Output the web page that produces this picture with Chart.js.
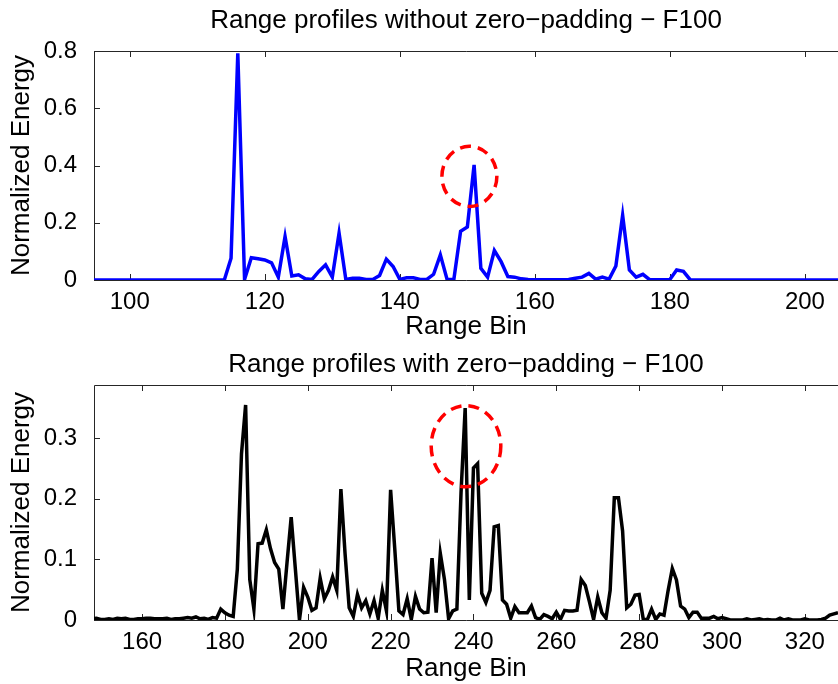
<!DOCTYPE html>
<html>
<head>
<meta charset="utf-8">
<script src="https://cdn.jsdelivr.net/npm/chart.js@4.4.0/dist/chart.umd.min.js"></script>
<style>
  html, body { margin: 0; padding: 0; background: #fff; }
  #wrap { position: relative; width: 838px; height: 684px; }
  .box { position: absolute; left: 0; width: 838px; height: 342px; }
</style>
</head>
<body>
<div id="wrap">
  <div class="box" style="top:0"><canvas id="topChart"></canvas></div>
  <div class="box" style="top:342px"><canvas id="bottomChart"></canvas></div>
</div>
<script>
// range bins of the first sample in each profile
const topFirstBin = 94;
const bottomFirstBin = 148;

// normalized energy, without zero-padding (bins 94..205)
const topValues = [
  0, 0, 0, 0, 0, 0, 0, 0, 0, 0,
  0, 0, 0, 0, 0, 0, 0, 0, 0, 0,
  0, 0.076, 0.792, 0.002, 0.078, 0.074, 0.07, 0.06, 0.01, 0.152,
  0.014, 0.018, 0.004, 0.002, 0.03, 0.053, 0.01, 0.164, 0.002, 0.006,
  0.006, 0.002, 0.002, 0.016, 0.073, 0.047, 0.002, 0.008, 0.008, 0.002,
  0.002, 0.02, 0.088, 0.002, 0.002, 0.17, 0.185, 0.402, 0.041, 0.01,
  0.103, 0.064, 0.012, 0.01, 0.004, 0.002, 0.001, 0.001, 0.001, 0.001,
  0.001, 0.002, 0.006, 0.01, 0.023, 0.003, 0.01, 0.003, 0.049, 0.226,
  0.035, 0.01, 0.02, 0.001, 0.001, 0.001, 0.002, 0.035, 0.03, 0.001,
  0, 0, 0, 0, 0, 0, 0, 0, 0, 0,
  0, 0, 0, 0, 0, 0, 0, 0, 0, 0,
  0, 0
];

// normalized energy, with zero-padding (bins 148..328)
const bottomValues = [
  0.002, 0.003, 0.001, 0.001, 0.002, 0.001, 0.003, 0.002, 0.003, 0.001,
  0.001, 0.002, 0.002, 0.003, 0.003, 0.002, 0.002, 0.002, 0.003, 0.001,
  0.002, 0.002, 0.003, 0.004, 0.003, 0.005, 0.002, 0.003, 0.001, 0.004,
  0.003, 0.018, 0.012, 0.008, 0.006, 0.084, 0.274, 0.355, 0.067, 0.018,
  0.126, 0.127, 0.149, 0.118, 0.095, 0.084, 0.018, 0.095, 0.17, 0.085,
  0, 0.054, 0.038, 0.016, 0.02, 0.069, 0.035, 0.049, 0.071, 0.049,
  0.216, 0.11, 0.02, 0.006, 0.042, 0.02, 0.032, 0.01, 0.032, 0.003,
  0.049, 0.015, 0.215, 0.118, 0.015, 0.009, 0.035, 0.001, 0.039, 0.018,
  0.012, 0.013, 0.102, 0.012, 0.11, 0.067, 0.002, 0.015, 0.018, 0.21,
  0.35, 0.033, 0.251, 0.258, 0.044, 0.029, 0.049, 0.154, 0.156, 0.033,
  0.026, 0.003, 0.022, 0.012, 0.012, 0.012, 0.023, 0.004, 0.001, 0.009,
  0.006, 0.002, 0.013, 0.001, 0.016, 0.015, 0.015, 0.016, 0.067, 0.057,
  0.03, 0.001, 0.038, 0.012, 0.003, 0.049, 0.202, 0.202, 0.147, 0.02,
  0.026, 0.041, 0.042, 0.001, 0.001, 0.018, 0.001, 0.01, 0.008, 0.049,
  0.085, 0.066, 0.023, 0.018, 0.004, 0.013, 0.013, 0.003, 0.003, 0.003,
  0.006, 0.002, 0.004, 0.002, 0, 0, 0, 0, 0.002, 0,
  0.001, 0.002, 0, 0.001, 0, 0, 0.003, 0, 0.002, 0,
  0, 0, 0.002, 0, 0, 0, 0.001, 0.003, 0.008, 0.01,
  0.012
];

const topXTicks = [100, 120, 140, 160, 180, 200];
const topYTicks = [0, 0.2, 0.4, 0.6, 0.8];
const bottomXTicks = [160, 180, 200, 220, 240, 260, 280, 300, 320];
const bottomYTicks = [0, 0.1, 0.2, 0.3];

// dashed circles around the compared peak (data units)
const topMarker = { x: 150.3, y: 0.362, rx: 4.07, ry: 0.105 };
const bottomMarker = { x: 238.2, y: 0.287, rx: 8.4, ry: 0.067 };

const FONT = "'Liberation Sans', Arial, Helvetica, sans-serif";
const AXIS_COLOR = "#262626";

function toPoints(firstBin, values) {
  return values.map((v, i) => ({ x: firstBin + i, y: v }));
}

function fmt(v) {
  return v === 0 ? "0" : String(v);
}

// matlab-like box with inward ticks (right side is cut off in the figure)
const axesBox = {
  id: "axesBox",
  beforeDatasetsDraw(chart) {
    const { ctx, chartArea: a, scales } = chart;
    ctx.save();
    ctx.strokeStyle = AXIS_COLOR;
    ctx.lineWidth = 1;
    ctx.beginPath();
    scales.x.ticks.forEach((t) => {
      const px = Math.round(scales.x.getPixelForValue(t.value)) + 0.5;
      ctx.moveTo(px, a.bottom);
      ctx.lineTo(px, a.bottom - 6);
      ctx.moveTo(px, a.top);
      ctx.lineTo(px, a.top + 6);
    });
    scales.y.ticks.forEach((t) => {
      const py = Math.round(scales.y.getPixelForValue(t.value)) + 0.5;
      ctx.moveTo(a.left, py);
      ctx.lineTo(a.left + 6, py);
    });
    const l = Math.round(a.left) + 0.5;
    const tp = Math.round(a.top) + 0.5;
    const b = Math.round(a.bottom) + 0.5;
    ctx.moveTo(a.right + 2, tp);
    ctx.lineTo(l, tp);
    ctx.lineTo(l, b);
    ctx.lineTo(a.right + 2, b);
    ctx.stroke();
    ctx.restore();
  },
};

const peakCircle = {
  id: "peakCircle",
  afterDatasetsDraw(chart, args, opts) {
    const m = opts.marker;
    if (!m) return;
    const { ctx, scales: { x, y } } = chart;
    const cx = x.getPixelForValue(m.x);
    const cy = y.getPixelForValue(m.y);
    const rx = Math.abs(x.getPixelForValue(m.x + m.rx) - cx);
    const ry = Math.abs(y.getPixelForValue(m.y + m.ry) - cy);
    ctx.save();
    ctx.strokeStyle = "#ff0000";
    ctx.lineWidth = 3.5;
    ctx.setLineDash([11, 7]);
    ctx.beginPath();
    ctx.ellipse(cx, cy, rx, ry, 0, 0, Math.PI * 2);
    ctx.stroke();
    ctx.restore();
  },
};

function makeChart(id, cfg) {
  return new Chart(document.getElementById(id), {
    type: "line",
    data: {
      datasets: [
        {
          data: toPoints(cfg.firstBin, cfg.values),
          borderColor: cfg.color,
          borderWidth: 3.5,
          pointRadius: 0,
          tension: 0,
          fill: false,
        },
      ],
    },
    plugins: [axesBox, peakCircle],
    options: {
      responsive: true,
      maintainAspectRatio: false,
      animation: false,
      devicePixelRatio: 1,
      layout: { padding: 0 },
      plugins: {
        legend: { display: false },
        tooltip: { enabled: false },
        title: {
          display: true,
          fullSize: false,
          text: cfg.title,
          color: "#000",
          font: { family: FONT, size: 26, weight: "normal" },
          padding: cfg.titlePadding,
        },
        peakCircle: { marker: cfg.marker },
      },
      scales: {
        x: {
          type: "linear",
          min: cfg.xMin,
          max: cfg.xMax,
          afterBuildTicks: (s) => { s.ticks = cfg.xTicks.map((v) => ({ value: v })); },
          afterFit: (s) => { s.height = cfg.xAxisHeight; },
          grid: { display: false, drawTicks: false },
          border: { display: false },
          ticks: {
            color: "#000",
            padding: 8,
            maxRotation: 0,
            autoSkip: false,
            font: { family: FONT, size: 24 },
            callback: (v) => fmt(v),
          },
          title: {
            display: true,
            text: "Range Bin",
            color: "#000",
            font: { family: FONT, size: 26 },
            padding: { top: 0, bottom: cfg.xTitleBottom },
          },
        },
        y: {
          min: 0,
          max: cfg.yMax,
          afterBuildTicks: (s) => { s.ticks = cfg.yTicks.map((v) => ({ value: v })); },
          afterFit: (s) => { s.width = 94; },
          grid: { display: false, drawTicks: false },
          border: { display: false },
          ticks: {
            color: "#000",
            padding: 17,
            autoSkip: false,
            font: { family: FONT, size: 24 },
            callback: (v) => fmt(v),
          },
          title: {
            display: true,
            text: "Normalized Energy",
            color: "#000",
            font: { family: FONT, size: 26 },
            padding: { top: 6, bottom: 0 },
          },
        },
      },
    },
  });
}

makeChart("topChart", {
  firstBin: topFirstBin,
  values: topValues,
  color: "#0000ff",
  title: "Range profiles without zero\u2212padding \u2212 F100",
  titlePadding: { top: 5, bottom: 14.8 },
  xMin: 94.7,
  xMax: 204.9,
  xTicks: topXTicks,
  yTicks: topYTicks,
  yMax: 0.8,
  xAxisHeight: 62,
  xTitleBottom: 0,
  marker: topMarker,
});

makeChart("bottomChart", {
  firstBin: bottomFirstBin,
  values: bottomValues,
  color: "#000000",
  title: "Range profiles with zero\u2212padding \u2212 F100",
  titlePadding: { top: 7, bottom: 4.8 },
  xMin: 148.4,
  xMax: 328,
  xTicks: bottomXTicks,
  yTicks: bottomYTicks,
  yMax: 0.388,
  xAxisHeight: 64,
  xTitleBottom: 0,
  marker: bottomMarker,
});
</script>
</body>
</html>
